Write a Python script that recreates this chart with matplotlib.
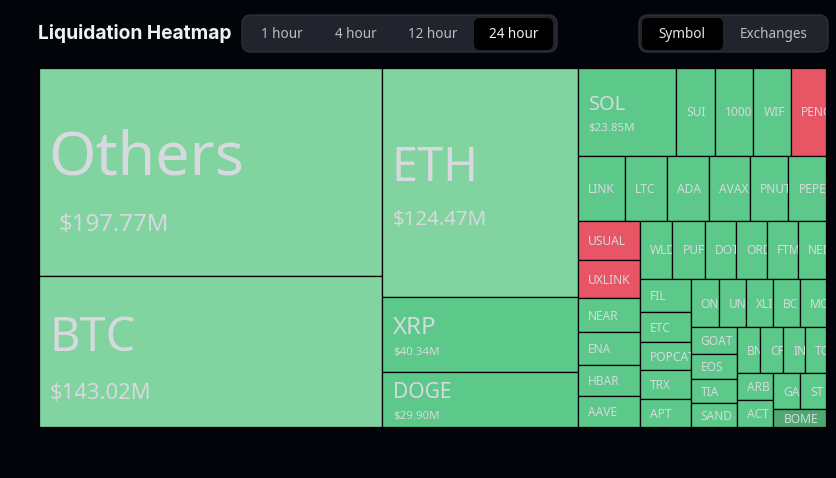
import matplotlib
matplotlib.use("Agg")
import matplotlib.pyplot as plt
from matplotlib.patches import Rectangle, FancyBboxPatch

plt.rcParams['font.family'] = ['Noto Sans', 'DejaVu Sans']

# liquidations in $M, small ones
# narrow cells cut the symbol off, so the names are what can be read
main_names = ['Others', 'BTC', 'ETH', 'XRP', 'DOGE', 'SOL']
main_values = [197.77, 143.02, 124.47, 40.34, 29.90, 23.85]

top_names = ['SUI', '1000', 'WIF', 'PENG']
top_values = [9.50, 9.35, 9.20, 8.45]
row2_names = ['LINK', 'LTC', 'ADA', 'AVAX', 'PNUT', 'PEPE']
row2_values = [8.46, 7.53, 7.60, 7.24, 6.95, 6.75]
cola_names = ['USUAL', 'UXLINK', 'NEAR', 'ENA', 'HBAR', 'AAVE']
cola_values = [6.78, 6.56, 5.88, 5.70, 5.36, 5.31]
row3_names = ['WLD', 'PUF', 'DOT', 'ORD', 'FTM', 'NEI']
row3_values = [5.20, 5.20, 5.03, 5.03, 4.94, 4.60]
colb_names = ['FIL', 'ETC', 'POPCAT', 'TRX', 'APT']
colb_values = [4.60, 4.18, 3.90, 4.04, 3.86]
row4_names = ['ON', 'UN', 'XLI', 'BC', 'MO']
row4_values = [3.74, 3.61, 3.61, 3.61, 3.44]
colc_names = ['GOAT', 'EOS', 'TIA', 'SAND']
colc_values = [3.49, 3.23, 3.10, 3.06]
row5_names = ['BN', 'CF', 'IN', 'TO']
row5_values = [2.90, 2.95, 2.82, 2.65]
cold_names = ['ARB', 'ACT']
cold_values = [2.71, 2.68]
row6_names = ['GA', 'ST', 'BOME']
row6_values = [2.67, 2.58, 2.58]

red_names = ['PENG', 'USUAL', 'UXLINK']
pale_names = ['Others', 'BTC', 'ETH']
dark_names = ['BOME']

time_labels = ['1 hour', '4 hour', '12 hour', '24 hour']
view_labels = ['Symbol', 'Exchanges']

values = {}
for n, v in [(main_names, main_values), (top_names, top_values), (row2_names, row2_values),
             (cola_names, cola_values), (row3_names, row3_values), (colb_names, colb_values),
             (row4_names, row4_values), (colc_names, colc_values), (row5_names, row5_values),
             (cold_names, cold_values), (row6_names, row6_values)]:
    values.update(zip(n, v))

# nested slices, each level flips direction
corner = [['GA', 'ST'], 'BOME']
block5 = [row5_names, [cold_names, corner]]
block4 = [row4_names, [colc_names, block5]]
block3 = [row3_names, [colb_names, block4]]
rest = [['SOL'] + top_names, row2_names, [cola_names, block3]]
tree = [['Others', 'BTC'], ['ETH', 'XRP', 'DOGE'], rest]


def total(node):
    if isinstance(node, str):
        return values[node]
    return sum(total(c) for c in node)


def layout(node, x, y, w, h, across, out):
    if isinstance(node, str):
        out[node] = (x, y, w, h)
        return
    s = total(node)
    for c in node:
        f = total(c) / s
        if across:
            layout(c, x, y, w * f, h, False, out)
            x += w * f
        else:
            layout(c, x, y, w, h * f, True, out)
            y += h * f


BG = '#02040a'
PALE = '#81d3a0'
GREEN = '#5cc98a'
RED = '#e85565'
DARK = '#4fa872'
TXT = '#d6d9dd'

fig = plt.figure(figsize=(8.36, 4.78), dpi=100, facecolor=BG)
ax = fig.add_axes([0, 0, 1, 1])
ax.set_xlim(0, 836)
ax.set_ylim(478, 0)
ax.axis('off')


def px(n):
    return n * 0.72


cells = {}
layout(tree, 39, 68, 787, 359, True, cells)

# name size, value size, name x pad, name y offset, value y offset, value x pad (from cell centre)
big = {
    'Others': (61, 24, 9, -14, 52, 20),
    'ETH': (47, 20.5, 10, -14, 37, 11),
    'BTC': (47, 22, 10, -13, 42, 11),
    'XRP': (24, 11.5, 11, -7, 18, 11),
    'DOGE': (21, 11.5, 11, -7, 17, 11),
    'SOL': (20, 11.5, 11, -7, 17, 10.5),
}

for name, (x, y, w, h) in cells.items():
    col = GREEN
    if name in red_names:
        col = RED
    elif name in pale_names:
        col = PALE
    elif name in dark_names:
        col = DARK
    r = Rectangle((x, y), w, h, facecolor=col, edgecolor='black', linewidth=0.9)
    ax.add_patch(r)
    cy = y + h / 2
    if name in big:
        ns, vs, nx, dy, vy, vx = big[name]
        t = ax.text(x + nx, cy + dy, name, color=TXT, fontsize=px(ns), va='center', ha='left')
        t2 = ax.text(x + vx, cy + vy, '$%.2fM' % values[name], color=TXT, fontsize=px(vs), va='center', ha='left')
        t2.set_clip_on(True)
        t2.set_clip_path(r)
    else:
        t = ax.text(x + 10, cy + 1, name, color=TXT, fontsize=px(12), va='center', ha='left')
    t.set_clip_on(True)
    t.set_clip_path(r)

ax.text(38, 33.5, 'Liquidation Heatmap', color='#f0f1f3', fontsize=px(19.2), fontweight='bold',
        family=['Inter', 'DejaVu Sans'], va='center', ha='left')


def pill(x0, x1, y0, y1, col, edge='none', rad=9):
    ax.add_patch(FancyBboxPatch((x0 + rad, y0 + rad), x1 - x0 - 2 * rad, y1 - y0 - 2 * rad,
                                boxstyle='round,pad=%d,rounding_size=%d' % (rad, rad),
                                facecolor=col, edgecolor=edge, linewidth=1))


pill(242, 557, 15, 52, '#21242c', '#2d3038')
pill(474, 553, 18, 50, '#000000', rad=6)
for lab, xc in zip(time_labels, [282, 356, 433, 514]):
    ax.text(xc, 34.5, lab, color='#f0f0f0' if lab == '24 hour' else '#b9bdc4', fontsize=px(13.5),
            va='center', ha='center')

pill(639, 828, 15, 52, '#21242c', '#2d3038')
pill(642, 723, 18, 50, '#000000', rad=6)
for lab, xc in zip(view_labels, [682, 774]):
    ax.text(xc, 34.5, lab, color='#e6e6e6' if lab == 'Symbol' else '#b9bdc4', fontsize=px(13.5),
            va='center', ha='center')

fig.savefig('out.png', dpi=100, facecolor=BG)
